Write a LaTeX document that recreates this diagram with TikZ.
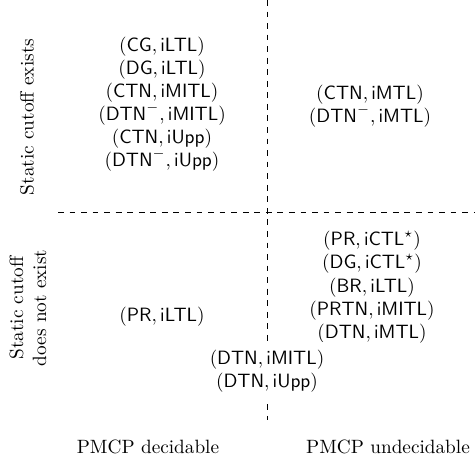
\documentclass[tikz,border=0pt]{standalone}
\begin{document}
\begin{tikzpicture}[x=0.5195pt,y=-0.5195pt,
  cell/.style={align=center,inner sep=2pt},
  axislabel/.style={align=center,inner sep=0pt},
  divider/.style={dashed,line width=0.4pt}]
\useasboundingbox (0,0) rectangle (475,462);
\coordinate (vtop) at (267,0);
\coordinate (vbot) at (267,420);
\coordinate (hl) at (58,212);
\coordinate (hr) at (475,212);
\draw[divider] (vtop) -- (vbot);
\draw[divider] (hl) -- (hr);
\node[cell] (tl) at (162,104) {$(\mathsf{CG},\mathsf{iLTL})$\\$(\mathsf{DG},\mathsf{iLTL})$\\$(\mathsf{CTN},\mathsf{iMITL})$\\$(\mathsf{DTN}^-,\mathsf{iMITL})$\\$(\mathsf{CTN},\mathsf{iUpp})$\\$(\mathsf{DTN}^-,\mathsf{iUpp})$};
\node[cell] (tr) at (370,106) {$(\mathsf{CTN},\mathsf{iMTL})$\\$(\mathsf{DTN}^-,\mathsf{iMTL})$};
\node[cell] (bl) at (162,317) {$(\mathsf{PR},\mathsf{iLTL})$};
\node[cell] (br) at (372,287) {$(\mathsf{PR},\mathsf{iCTL}^\star)$\\$(\mathsf{DG},\mathsf{iCTL}^\star)$\\$(\mathsf{BR},\mathsf{iLTL})$\\$(\mathsf{PRTN},\mathsf{iMITL})$\\$(\mathsf{DTN},\mathsf{iMTL})$};
\node[cell,fill=white,inner sep=4pt] (mid) at (267,371) {$(\mathsf{DTN},\mathsf{iMITL})$\\$(\mathsf{DTN},\mathsf{iUpp})$};
\node[axislabel,rotate=90] (ly1) at (27,117) {Static cutoff exists};
\node[axislabel,rotate=90] (ly2) at (28,308) {Static cutoff\\does not exist};
\node[axislabel] (lx1) at (148,447) {PMCP decidable};
\node[axislabel] (lx2) at (388,447) {PMCP undecidable};
\end{tikzpicture}
\end{document}
